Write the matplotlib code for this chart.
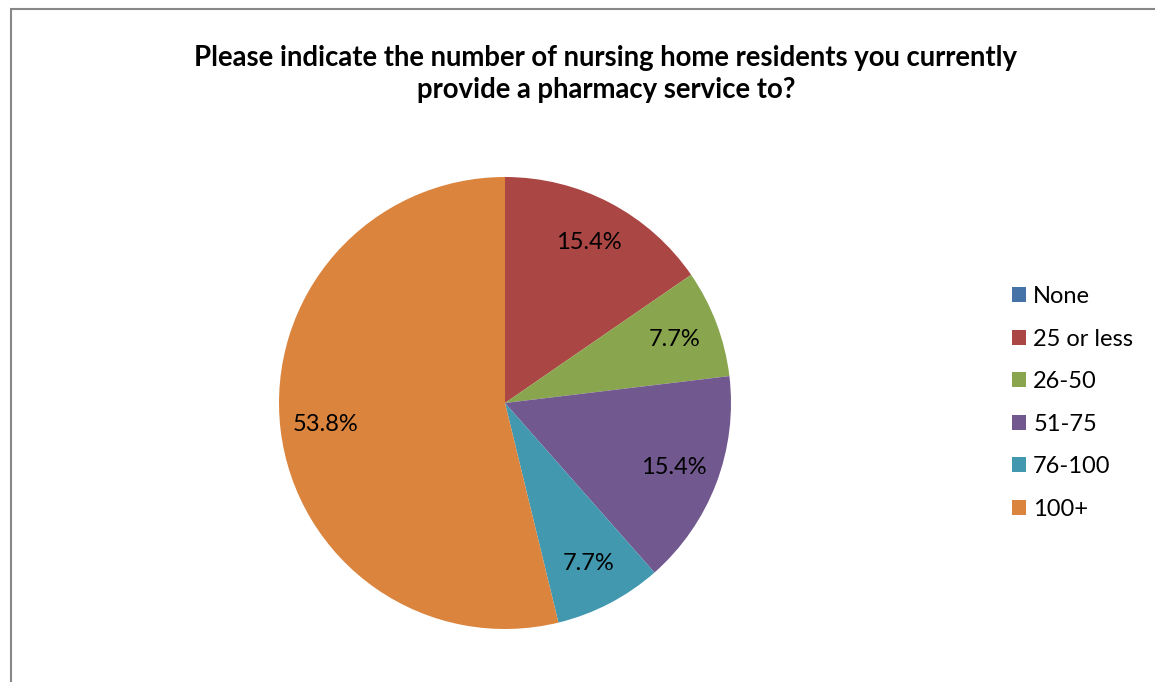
import matplotlib
matplotlib.use("Agg")
import matplotlib.pyplot as plt
from matplotlib.patches import Rectangle

plt.rcParams['font.family'] = ['Lato', 'DejaVu Sans']

TITLE = "Please indicate the number of nursing home residents you currently\nprovide a pharmacy service to?"
categories = ["None", "25 or less", "26-50", "51-75", "76-100", "100+"]
percents = [0.0, 15.4, 7.7, 15.4, 7.7, 53.8]
colors = ["#4572A7", "#AA4643", "#89A54E", "#71588F", "#4198AF", "#DB843D"]

W, H = 1155, 682
fig = plt.figure(figsize=(W / 100, H / 100), dpi=100)

# grey chart frame (right and bottom edges fall outside the picture)
fig.add_artist(Rectangle((10.5 / W, -0.1), 2.0, 1.1 - 9 / H,
                         transform=fig.transFigure, fill=False,
                         edgecolor="#878787", linewidth=1.5))

cx, cy, r = 505, 403, 226
ax = fig.add_axes([(cx - r) / W, (H - cy - r) / H, 2 * r / W, 2 * r / H])


def fmt(p):
    return "" if p < 0.5 else "%1.1f%%" % p


wedges, texts, autotexts = ax.pie(
    percents, colors=colors, startangle=90, counterclock=False,
    autopct=fmt, pctdistance=0.8, radius=1.0,
    wedgeprops=dict(linewidth=0),
    textprops=dict(fontsize=17, color="black"))
ax.set_xlim(-1, 1)
ax.set_ylim(-1, 1)
ax.set_aspect("equal")
ax.axis("off")

fig.text(606 / W, 1 - 74 / H, TITLE, ha="center", va="center",
         fontsize=19.8, fontweight="bold", linespacing=1.32)

leg = fig.legend(wedges, categories, loc="center left",
                 bbox_to_anchor=(1012 / W, 1 - 403 / H), frameon=False,
                 fontsize=17, handlelength=0.6, handleheight=0.6,
                 handletextpad=0.3, labelspacing=0.91,
                 borderpad=0, borderaxespad=0)

fig.savefig("out.png", dpi=100)
